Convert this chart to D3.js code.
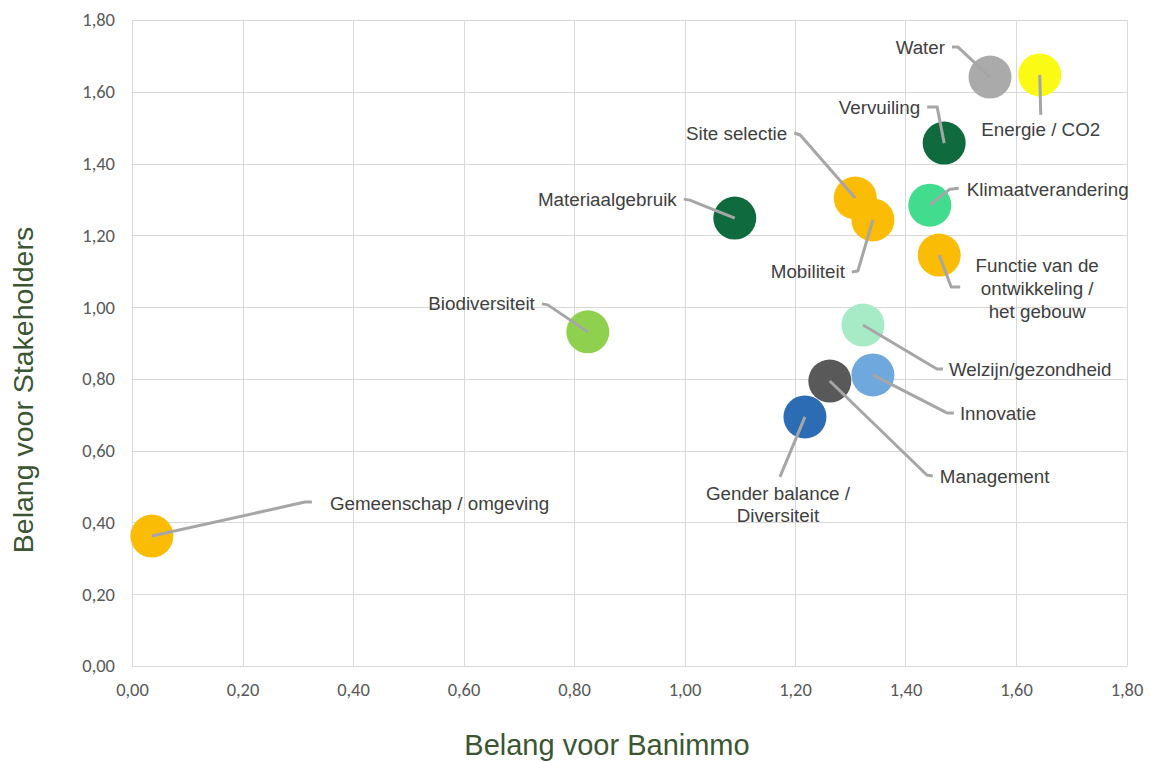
<!DOCTYPE html>
<html>
<head>
<meta charset="utf-8">
<script src="https://cdn.jsdelivr.net/npm/d3@7"></script>
<style>
  html, body { margin: 0; padding: 0; background: #ffffff; }
  svg { display: block; }
  .tick text { font-family: Carlito, Calibri, Lato, sans-serif; font-size: 18.5px; fill: #595959; }
  .lbl { font-family: "Liberation Sans", Arial, Helvetica, sans-serif; font-size: 18.8px; fill: #404040; }
  .title { font-family: "Liberation Sans", Arial, Helvetica, sans-serif; font-size: 29px; fill: #3c5532; }
</style>
</head>
<body>
<svg id="chart" width="1150" height="761"></svg>
<script>
// Topics and their scores
const topics = [
  "Water", "Energie / CO2", "Vervuiling", "Site selectie", "Klimaatverandering",
  "Materiaalgebruik", "Biodiversiteit", "Mobiliteit", "Functie van de ontwikkeling / het gebouw",
  "Welzijn/gezondheid", "Innovatie", "Management", "Gender balance / Diversiteit",
  "Gemeenschap / omgeving"
];
const banimmo = [1.553, 1.643, 1.470, 1.309, 1.444, 1.091, 0.825, 1.341, 1.461, 1.323, 1.341, 1.263, 1.218, 0.036];
const stakeholders = [1.641, 1.647, 1.457, 1.304, 1.284, 1.248, 0.931, 1.243, 1.145, 0.950, 0.811, 0.794, 0.694, 0.362];
const xTicks = [0, 0.2, 0.4, 0.6, 0.8, 1.0, 1.2, 1.4, 1.6, 1.8];
const yTicks = [0, 0.2, 0.4, 0.6, 0.8, 1.0, 1.2, 1.4, 1.6, 1.8];

// Bubble fill per topic
const fills = [
  "#aaaaaa", "#fafa14", "#0f6b3d", "#fbbc05", "#42dc8e",
  "#0f6b3d", "#8fd04f", "#fbbc05", "#fbbc05",
  "#a6eac6", "#6fa8dc", "#595959", "#2b6cb5", "#fbbc05"
];

// Label placement: leader path (offsets from the bubble centre), text anchor and line offsets
const labelLayout = [
  { path: [[0,0],[-32,-30],[-38,-30]], anchor: "end",    pos: [-45,-30], lines: ["Water"] },
  { path: [[0,0],[1,40]],              anchor: "middle", pos: [1,55],    lines: ["Energie / CO2"] },
  { path: [[0,0],[-7,-36],[-17,-36]],  anchor: "end",    pos: [-24,-36], lines: ["Vervuiling"] },
  { path: [[0,0],[-55,-63],[-61,-65]], anchor: "end",    pos: [-68,-65], lines: ["Site selectie"] },
  { path: [[0,0],[20,-16],[29,-17]],   anchor: "start",  pos: [37,-16],  lines: ["Klimaatverandering"] },
  { path: [[0,0],[-45,-18],[-51,-19]], anchor: "end",    pos: [-58,-19], lines: ["Materiaalgebruik"] },
  { path: [[0,0],[-40,-27],[-46,-28]], anchor: "end",    pos: [-53,-28], lines: ["Biodiversiteit"] },
  { path: [[0,0],[-15,51],[-21,52]],   anchor: "end",    pos: [-28,52],  lines: ["Mobiliteit"] },
  { path: [[0,0],[12,32],[21,32]],     anchor: "middle", pos: [98,10],   lines: ["Functie van de", "ontwikkeling /", "het gebouw"] },
  { path: [[0,0],[74,44],[80,44]],     anchor: "start",  pos: [86,44],   lines: ["Welzijn/gezondheid"] },
  { path: [[0,0],[74,38],[81,38]],     anchor: "start",  pos: [87,38],   lines: ["Innovatie"] },
  { path: [[0,0],[97,94],[103,95]],    anchor: "start",  pos: [110,95],  lines: ["Management"] },
  { path: [[0,0],[-25,60]],            anchor: "middle", pos: [-27,76],  lines: ["Gender balance /", "Diversiteit"] },
  { path: [[0,0],[153,-34],[160,-34]], anchor: "start",  pos: [178,-33], lines: ["Gemeenschap / omgeving"] }
];

// Drawing order so overlapping bubbles stack correctly
const drawOrder = [0, 1, 2, 3, 7, 4, 5, 6, 8, 9, 10, 12, 11, 13];

const W = 1150, H = 761;
const margin = { top: 20, right: 23.5, bottom: 95, left: 132 };
const R = 21.5;

const svg = d3.select("#chart");
const x = d3.scaleLinear().domain([0, 1.8]).range([margin.left, W - margin.right]);
const y = d3.scaleLinear().domain([0, 1.8]).range([H - margin.bottom, margin.top]);

const nl = d3.formatLocale({ decimal: ",", thousands: ".", grouping: [3], currency: ["€", ""] });
const fmt = nl.format(".2f");

// Gridlines
const grid = svg.append("g").attr("stroke", "#d9d9d9").attr("stroke-width", 1.3).attr("shape-rendering", "crispEdges");
grid.selectAll("line.v").data(xTicks).join("line")
  .attr("x1", d => Math.round(x(d)) + 0.5).attr("x2", d => Math.round(x(d)) + 0.5)
  .attr("y1", y(1.8)).attr("y2", y(0));
grid.selectAll("line.h").data(yTicks).join("line")
  .attr("x1", x(0)).attr("x2", x(1.8))
  .attr("y1", d => Math.round(y(d)) + 0.5).attr("y2", d => Math.round(y(d)) + 0.5);

// Axes (labels only)
svg.append("g").attr("transform", `translate(0,${y(0)})`)
  .call(d3.axisBottom(x).tickValues(xTicks).tickFormat(fmt).tickSize(0).tickPadding(17));
svg.append("g").attr("transform", `translate(${x(0)},0)`)
  .call(d3.axisLeft(y).tickValues(yTicks).tickFormat(fmt).tickSize(0).tickPadding(17));
svg.selectAll(".domain").remove();

// Bubbles
const pts = drawOrder.map(i => ({ i, cx: x(banimmo[i]), cy: y(stakeholders[i]) }));
svg.append("g").selectAll("circle").data(pts).join("circle")
  .attr("cx", d => d.cx).attr("cy", d => d.cy).attr("r", R)
  .attr("fill", d => fills[d.i]);

// Leader lines
const line = d3.line();
svg.append("g").selectAll("path").data(pts).join("path")
  .attr("d", d => line(labelLayout[d.i].path.map(p => [d.cx + p[0], d.cy + p[1]])))
  .attr("fill", "none").attr("stroke", "#a6a6a6").attr("stroke-width", 3)
  .attr("stroke-linejoin", "round").attr("stroke-linecap", "butt");

// Data labels
const lblG = svg.append("g");
pts.forEach(d => {
  const L = labelLayout[d.i];
  const t = lblG.append("text").attr("class", "lbl")
    .attr("text-anchor", L.anchor)
    .attr("x", d.cx + L.pos[0]).attr("y", d.cy + L.pos[1]);
  L.lines.forEach((s, k) => {
    t.append("tspan").attr("x", d.cx + L.pos[0]).attr("dy", k === 0 ? "0.35em" : "1.22em").text(s);
  });
});

// Axis titles
svg.append("text").attr("class", "title").attr("text-anchor", "middle")
  .attr("x", 607).attr("y", 755).text("Belang voor Banimmo");
svg.append("text").attr("class", "title").attr("text-anchor", "middle")
  .attr("transform", `translate(33,${(y(0) + y(1.8)) / 2 + 47}) rotate(-90)`)
  .style("font-size", "28.5px").text("Belang voor Stakeholders");
</script>
</body>
</html>
